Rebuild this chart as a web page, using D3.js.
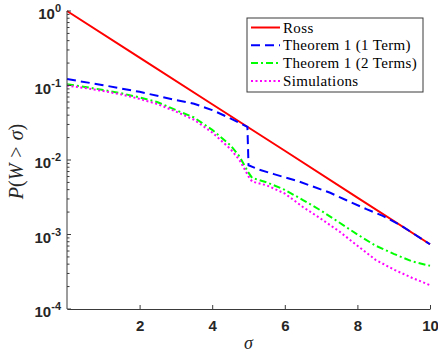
<!DOCTYPE html>
<html>
<head>
<meta charset="utf-8">
<script src="https://cdn.jsdelivr.net/npm/d3@7"></script>
<style>
  body { margin: 0; background: #fff; }
  svg { display: block; }
</style>
</head>
<body>
<div id="chart"></div>
<script>
var svgWidth = 438;
var svgHeight = 354;

var margin = { top: 11, right: 8, bottom: 45, left: 67 };
var width = 430 - margin.left;
var height = 309 - margin.top;

// Ross bound (straight line on log scale)
var rossSigma = [0, 2, 4, 6, 8, 10];
var rossVals = [1, 0.237, 0.056, 0.0133, 0.00313, 0.00074];

// Theorem 1, one term
var oneSigma = [0, 1, 2, 3, 3.5, 4, 4.5, 4.97, 5.0, 5.3, 5.7, 6.4, 7.25, 7.7, 8.25, 8.7, 9.2, 10];
var oneVals = [0.122, 0.101, 0.0822, 0.0638, 0.0569, 0.0468, 0.0363, 0.0279, 0.00851, 0.00741,
  0.00646, 0.00513, 0.00363, 0.00288, 0.00219, 0.00178, 0.00132, 0.00074];

// Theorem 1, two terms and simulations share a grid
var gridSigma = [0, 0.5, 1, 1.5, 2, 2.5, 3, 3.5, 4, 4.5, 4.75, 5, 5.1, 5.5, 6, 6.5, 7, 7.5, 8, 8.5, 9, 9.5, 10];
var twoVals = [0.1038, 0.0955, 0.0871, 0.0785, 0.0692, 0.0596, 0.0468, 0.0372, 0.0254, 0.0158, 0.0112,
  0.00676, 0.00575, 0.00501, 0.00398, 0.00290, 0.00209, 0.00145, 0.00100, 0.000708, 0.000550, 0.000437, 0.000380];
var simVals = [0.100, 0.0923, 0.0841, 0.0759, 0.0661, 0.0562, 0.0447, 0.0347, 0.0234, 0.0141, 0.0100,
  0.00603, 0.00513, 0.00457, 0.00355, 0.00234, 0.00162, 0.00110, 0.000708, 0.000457, 0.000339, 0.000263, 0.000209];

var legendLabels = ["Ross", "Theorem 1 (1 Term)", "Theorem 1 (2 Terms)", "Simulations"];
var xTicks = [2, 4, 6, 8, 10];
var yExponents = [0, -1, -2, -3, -4];

var series = [
  { name: legendLabels[0], x: rossSigma, y: rossVals, color: "#ff0000", dash: null },
  { name: legendLabels[1], x: oneSigma, y: oneVals, color: "#0000ff", dash: "9,5" },
  { name: legendLabels[2], x: gridSigma, y: twoVals, color: "#00ff00", dash: "7,3,2,3" },
  { name: legendLabels[3], x: gridSigma, y: simVals, color: "#ff00ff", dash: "2,2.5" }
];

var svg = d3.select("#chart")
  .append("svg")
  .attr("width", svgWidth)
  .attr("height", svgHeight);

var chartGroup = svg.append("g")
  .attr("transform", `translate(${margin.left}, ${margin.top})`);

var xScale = d3.scaleLinear().domain([0, 10]).range([0, width]);
var yScale = d3.scaleLog().domain([1e-4, 1]).range([height, 0]);

var axisColor = "#3a3a3a";

// lines first, axes on top
var line = d3.line()
  .x(d => xScale(d[0]))
  .y(d => yScale(d[1]));

series.forEach(function(s) {
  var pts = s.x.map((v, i) => [v, s.y[i]]);
  chartGroup.append("path")
    .datum(pts)
    .attr("fill", "none")
    .attr("stroke", s.color)
    .attr("stroke-width", 2)
    .attr("stroke-dasharray", s.dash)
    .attr("d", line);
});

// x axis
var bottomAxis = d3.axisBottom(xScale)
  .tickValues(xTicks)
  .tickSizeInner(-4)
  .tickSizeOuter(0)
  .tickPadding(11)
  .tickFormat(d3.format("d"));

var xAxisG = chartGroup.append("g")
  .attr("transform", `translate(0, ${height})`)
  .call(bottomAxis);
xAxisG.select(".domain").attr("stroke", axisColor);
xAxisG.selectAll(".tick line").attr("stroke", axisColor);
xAxisG.selectAll(".tick text")
  .attr("fill", "#262626")
  .style("font-family", "'Liberation Sans', Arial, sans-serif")
  .style("font-weight", "bold")
  .style("font-size", "15px");

// y axis: major + minor ticks
var minorVals = [];
yExponents.slice(1).forEach(function(e) {
  for (var m = 2; m <= 9; m++) minorVals.push(m * Math.pow(10, e));
});

var yAxisG = chartGroup.append("g");
yAxisG.append("line")
  .attr("x1", 0).attr("x2", 0)
  .attr("y1", 0).attr("y2", height)
  .attr("stroke", axisColor);

yAxisG.selectAll("line.minor")
  .data(minorVals)
  .enter()
  .append("line")
  .attr("class", "minor")
  .attr("x1", 0).attr("x2", 2.5)
  .attr("y1", d => yScale(d)).attr("y2", d => yScale(d))
  .attr("stroke", axisColor);

yAxisG.selectAll("line.major")
  .data(yExponents)
  .enter()
  .append("line")
  .attr("class", "major")
  .attr("x1", 0).attr("x2", 4)
  .attr("y1", d => yScale(Math.pow(10, d))).attr("y2", d => yScale(Math.pow(10, d)))
  .attr("stroke", axisColor);

var yLabels = yAxisG.selectAll("text.ylab")
  .data(yExponents)
  .enter()
  .append("text")
  .attr("class", "ylab")
  .attr("x", -6)
  .attr("y", d => yScale(Math.pow(10, d)) + 8)
  .attr("text-anchor", "end")
  .attr("fill", "#262626")
  .style("font-family", "'Liberation Sans', Arial, sans-serif")
  .style("font-weight", "bold")
  .style("font-size", "15px");
yLabels.append("tspan").text("10");
yLabels.append("tspan")
  .attr("dy", -7)
  .style("font-size", "11px")
  .text(d => d);

// axis titles
chartGroup.append("text")
  .attr("transform", "rotate(-90)")
  .attr("x", -150.5)
  .attr("y", -margin.left + 23)
  .attr("text-anchor", "middle")
  .attr("fill", "#262626")
  .style("font-family", "'Liberation Serif', 'DejaVu Serif', serif")
  .style("font-size", "20px")
  .html("<tspan font-style='italic'>P</tspan>(<tspan font-style='italic'>W</tspan><tspan dx='6'>&gt;</tspan><tspan dx='6' font-style='italic'>σ</tspan>)");

chartGroup.append("text")
  .attr("x", xScale(5))
  .attr("y", height + 40)
  .attr("text-anchor", "middle")
  .attr("fill", "#262626")
  .style("font-family", "'Liberation Serif', 'DejaVu Serif', serif")
  .style("font-style", "italic")
  .style("font-size", "18px")
  .text("σ");

// legend
var legend = svg.append("g")
  .attr("transform", "translate(247, 18)");

legend.append("rect")
  .attr("width", 176)
  .attr("height", 74)
  .attr("fill", "#fff")
  .attr("stroke", axisColor)
  .attr("stroke-width", 1);

series.forEach(function(s, i) {
  var yy = 9.5 + i * 17.8;
  legend.append("line")
    .attr("x1", 4).attr("x2", 33)
    .attr("y1", yy).attr("y2", yy)
    .attr("stroke", s.color)
    .attr("stroke-width", 2)
    .attr("stroke-dasharray", s.dash);
  legend.append("text")
    .attr("x", 36)
    .attr("y", yy + 5)
    .attr("fill", "#000")
    .style("font-family", "'Liberation Serif', 'DejaVu Serif', serif")
    .style("font-size", "15px")
    .style("letter-spacing", "0.35px")
    .text(s.name);
});
</script>
</body>
</html>
